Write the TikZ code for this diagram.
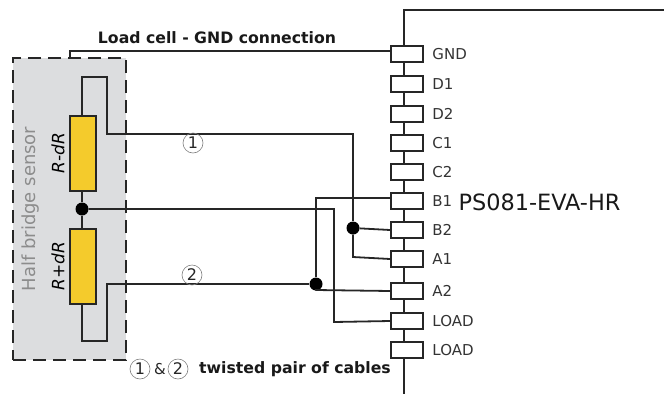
\documentclass[tikz,border=0pt]{standalone}
\usepackage{fontspec}
\setmainfont{DejaVu Sans}
\usetikzlibrary{positioning}
\definecolor{sensorgray}{HTML}{DCDDDF}
\definecolor{resyellow}{HTML}{F4CB2C}
\begin{document}
\begin{tikzpicture}
[x=1pt,y=-1pt,wire/.style = {draw=black!85, line width=1.8pt},
pinbox/.style = {draw=black!85, fill=white, line width=1.8pt, minimum width=32pt, minimum height=16pt, inner sep=0pt},
pinname/.style = {font=\fontsize{15}{16}\selectfont, text=black!80, xshift=5pt},
res/.style = {draw=black!85, fill=resyellow, line width=1.8pt, minimum width=26pt, minimum height=75pt, inner sep=0pt},
point/.style = {circle, fill=black, inner sep=0pt, minimum size=13pt},
num/.style = {circle, draw=black!50, line width=.6pt, minimum size=20pt, inner sep=0pt, font=\fontsize{16}{17}\selectfont, text=black!85},
caption/.style = {font=\bfseries\fontsize{15.7}{17}\selectfont, text=black!90},]
\useasboundingbox (0,0) rectangle (664,394);

\node (sensor) at (69.5,209)[draw=black!85, fill=sensorgray, line width=1.8pt, dash pattern=on 13pt off 7pt, minimum width=113pt, minimum height=302pt, inner sep=0pt] {};
\node (sensorname) at (31,209)[rotate=90, font=\fontsize{18}{19}\selectfont, text=black!45] {Half bridge sensor};

% chip outline
\coordinate (chiptop) at (404,10);
\coordinate (chipcorner) at (664,10);
\coordinate (chipend) at (404,394);
\draw[wire] (chipcorner)--(chiptop)--(chipend);

\node (GND) at (407,54)[pinbox,label={[pinname]right:GND}] {};
\node (D1) at (407,84)[pinbox,label={[pinname]right:D1}] {};
\node (D2) at (407,114)[pinbox,label={[pinname]right:D2}] {};
\node (C1) at (407,143)[pinbox,label={[pinname]right:C1}] {};
\node (C2) at (407,172)[pinbox,label={[pinname]right:C2}] {};
\node (B1) at (407,201)[pinbox,label={[pinname]right:B1}] {};
\node (B2) at (407,230)[pinbox,label={[pinname]right:B2}] {};
\node (A1) at (407,259)[pinbox,label={[pinname]right:A1}] {};
\node (A2) at (407,291)[pinbox,label={[pinname]right:A2}] {};
\node (LOADa) at (407,321)[pinbox,label={[pinname]right:LOAD}] {};
\node (LOADb) at (407,350)[pinbox,label={[pinname]right:LOAD}] {};

\node (chipname) at (539.5,202)[font=\fontsize{22.4}{24}\selectfont, text=black!90] {PS081-EVA-HR};

\node (Rminus) at (83,153.5)[res] {};
\node (Rplus) at (83,266.5)[res] {};
\node (Rminustext) at (58,153)[rotate=90, font=\itshape\fontsize{17}{18}\selectfont] {R-dR};
\node (Rplustext) at (58,266)[rotate=90, font=\itshape\fontsize{17}{18}\selectfont] {R+dR};

\node (mid) at (82,209)[point] {};
\node (dotone) at (353,228)[point] {};
\node (dottwo) at (316,284)[point] {};

% wires
\coordinate (gndup) at (70,51);
\draw[wire] (70,58)--(gndup)--(GND.west |- gndup);
\draw[wire] (Rminus.south -| mid)--(mid)--(Rplus.north -| mid);
\draw[wire] (Rminus.north -| mid)--(82,77)--(107,77)--(107,134)--(353,134)--(dotone);
\draw[wire] (dotone)--(B2.west);
\draw[wire] (dotone)--(353,257)--(A1.west);
\draw[wire] (mid)--(334,209)--(334,322)--(LOADa.west);
\draw[wire] (Rplus.south -| mid)--(82,341)--(107,341)--(107,284)--(dottwo);
\draw[wire] (dottwo)--(316,198)--(B1.west |- 0,198);
\draw[wire] (dottwo)--(316,290)--(A2.west);

\node (numone) at (193,143)[num] {1};
\node (numtwo) at (192,275)[num] {2};
\node (loadgnd) at (217,38)[caption] {Load cell - GND connection};
\node (legone) at (140,369)[num] {1};
\node (legand) at (160,369)[font=\fontsize{15}{16}\selectfont, text=black!85] {\&};
\node (legtwo) at (178,369)[num] {2};
\node (legtext) at (295,369)[caption] {twisted pair of cables};

\end{tikzpicture}
\end{document}
